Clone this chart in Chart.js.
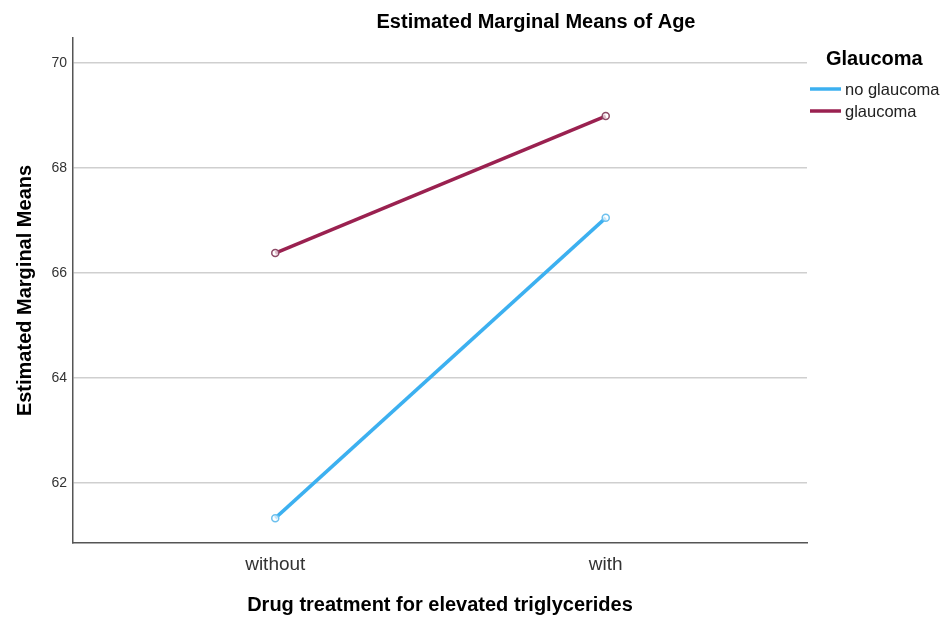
<!DOCTYPE html>
<html>
<head>
<meta charset="utf-8">
<script src="https://cdn.jsdelivr.net/npm/chart.js@4/dist/chart.umd.min.js"></script>
<style>
  html, body { margin: 0; padding: 0; background: #fff; }
  #wrap { width: 945px; height: 617px; position: relative; }
</style>
</head>
<body>
<div id="wrap"><canvas id="c" width="945" height="617"></canvas></div>
<script>
// ---- data ----
const categories = ['without', 'with'];
const categoryPositions = [0, 1];
const noGlaucoma = [61.33, 67.05];
const glaucoma = [66.38, 68.99];
const yTicks = [62, 64, 66, 68, 70];
const seriesNames = ['no glaucoma', 'glaucoma'];
const chartTitle = 'Estimated Marginal Means of Age';
const legendTitle = 'Glaucoma';
const xTitle = 'Drug treatment for elevated triglycerides';
const yTitle = 'Estimated Marginal Means';

const BLUE = '#3CB0F0';
const MAROON = '#9A2150';
const FONT = "'Liberation Sans', Arial, sans-serif";

const toPoints = (vals) => vals.map((v, i) => ({ x: categoryPositions[i], y: v }));

const overlay = {
  id: 'overlay',
  afterDraw(chart) {
    const ctx = chart.ctx;
    ctx.save();
    ctx.fillStyle = '#000';
    ctx.font = 'bold 20px ' + FONT;
    ctx.textAlign = 'center';
    ctx.textBaseline = 'middle';
    ctx.fillText(chartTitle, 536, 22);
    // legend
    ctx.textAlign = 'left';
    ctx.font = 'bold 20px ' + FONT;
    ctx.fillText(legendTitle, 826, 59);
    const items = [[seriesNames[0], BLUE, 89], [seriesNames[1], MAROON, 111]];
    ctx.font = '16.5px ' + FONT;
    items.forEach(([t, col, y]) => {
      ctx.strokeStyle = col;
      ctx.lineWidth = 3.5;
      ctx.beginPath();
      ctx.moveTo(810, y);
      ctx.lineTo(841, y);
      ctx.stroke();
      ctx.fillStyle = '#222';
      ctx.fillText(t, 845, y + 1);
    });
    ctx.restore();
  }
};

new Chart(document.getElementById('c'), {
  type: 'line',
  data: {
    datasets: [
      {
        label: seriesNames[0],
        data: toPoints(noGlaucoma),
        borderColor: BLUE,
        borderWidth: 3.5,
        pointRadius: 3.5,
        pointBorderWidth: 1.5,
        pointBorderColor: '#6cc0ee',
        pointBackgroundColor: 'rgba(255,255,255,0.7)',
        fill: false,
        tension: 0
      },
      {
        label: seriesNames[1],
        data: toPoints(glaucoma),
        borderColor: MAROON,
        borderWidth: 3.5,
        pointRadius: 3.5,
        pointBorderWidth: 1.5,
        pointBorderColor: '#8c4a66',
        pointBackgroundColor: 'rgba(255,255,255,0.7)',
        fill: false,
        tension: 0
      }
    ]
  },
  options: {
    responsive: false,
    animation: false,
    layout: { padding: { top: 38, right: 138, bottom: 0, left: 0 } },
    plugins: {
      legend: { display: false },
      title: { display: false },
      tooltip: { enabled: false }
    },
    scales: {
      x: {
        type: 'linear',
        min: -0.612,
        max: 1.609,
        afterBuildTicks: (s) => { s.ticks = categoryPositions.map(v => ({ value: v })); },
        afterFit: (s) => { s.height = 74; },
        ticks: {
          callback: (v) => categories[categoryPositions.indexOf(v)] ?? '',
          color: '#333',
          font: { family: FONT, size: 19 },
          padding: 10,
          maxRotation: 0
        },
        grid: { display: false, drawTicks: false },
        border: { display: true, color: '#555', width: 1.5 },
        title: {
          display: true,
          text: xTitle,
          color: '#000',
          font: { family: FONT, size: 20, weight: 'bold' },
          padding: { top: 0, bottom: 0 }
        }
      },
      y: {
        min: 60.857,
        max: 70.476,
        afterBuildTicks: (s) => { s.ticks = yTicks.map(v => ({ value: v })); },
        afterFit: (s) => { s.width = 73; },
        ticks: {
          color: '#333',
          font: { family: FONT, size: 14 },
          padding: 6
        },
        grid: { color: '#cfcfcf', lineWidth: 1.5, drawTicks: false },
        border: { display: true, color: '#555', width: 1.5 },
        title: {
          display: true,
          text: yTitle,
          color: '#000',
          font: { family: FONT, size: 20, weight: 'bold' },
          padding: { top: 13, bottom: 0 }
        }
      }
    }
  },
  plugins: [overlay]
});
</script>
</body>
</html>
